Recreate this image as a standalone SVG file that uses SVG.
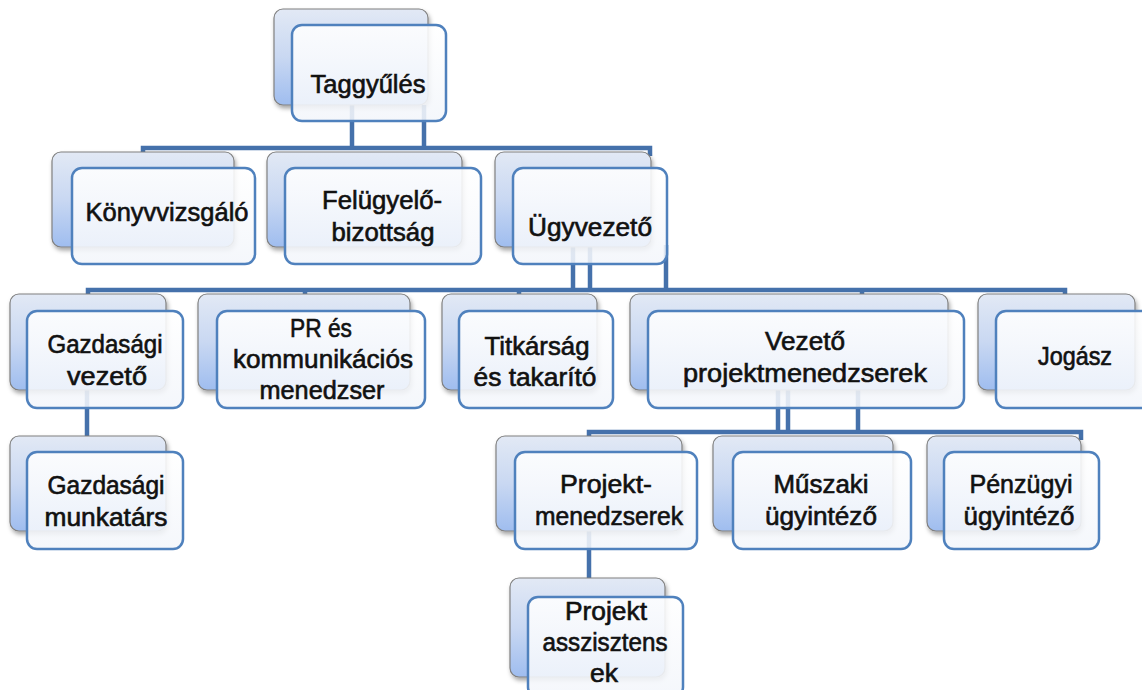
<svg xmlns="http://www.w3.org/2000/svg" width="1142" height="690" viewBox="0 0 1142 690">
<style>
.back{fill:url(#backGrad);stroke:#808080;stroke-width:1.2;filter:url(#shadow)}
.front{fill:url(#frontGrad);stroke:#4f81bd;stroke-width:2.5}
.t{font-family:"Liberation Sans",Arial,sans-serif;font-size:25px;fill:#111111;stroke:#111111;stroke-width:0.6;text-anchor:middle}
.conn path{fill:none;stroke:#4571ab;stroke-width:4.5}
</style>
<defs>
<linearGradient id="backGrad" x1="0" y1="0" x2="0" y2="1">
<stop offset="0" stop-color="#e2e9f5"/>
<stop offset="0.5" stop-color="#c9d8f2"/>
<stop offset="1" stop-color="#9fbdef"/>
</linearGradient>
<linearGradient id="frontGrad" x1="0" y1="0" x2="0" y2="1">
<stop offset="0" stop-color="#ffffff" stop-opacity="0.88"/>
<stop offset="1" stop-color="#f3f6fb" stop-opacity="0.88"/>
</linearGradient>
<filter id="shadow" x="-10%" y="-10%" width="125%" height="130%">
<feDropShadow dx="1.5" dy="3" stdDeviation="2" flood-color="#000" flood-opacity="0.35"/>
</filter>
</defs>
<rect width="1142" height="690" fill="#ffffff"/>

<g id="connectors" class="conn">
<path d="M352,105 V148"/>
<path d="M424,105 V148"/>
<path d="M143,154 V148 H650 V156"/>
<path d="M573,245 V290"/>
<path d="M590,245 V290"/>
<path d="M666,245 V290"/>
<path d="M88,297 V290 H1065 V298"/>
<path d="M305,290 V297"/>
<path d="M519,290 V297"/>
<path d="M862,290 V297"/>
<path d="M87,390 V437"/>
<path d="M778,390 V432"/>
<path d="M788,390 V432"/>
<path d="M858,390 V432"/>
<path d="M589,438 V432 H1081 V440"/>
<path d="M589,531 V579"/>
</g>

<g id="n-taggyules">
<rect class="back" x="274" y="9" width="154" height="96" rx="9"/>
<rect class="front" x="292" y="25" width="154" height="96" rx="10"/>
<text class="t" x="368" y="93" textLength="115" lengthAdjust="spacingAndGlyphs">Taggyűlés</text>
</g>

<g id="n-konyvvizsgalo">
<rect class="back" x="52" y="152" width="182" height="95" rx="9"/>
<rect class="front" x="72" y="168" width="183" height="96" rx="10"/>
<text class="t" x="167" y="221" textLength="163" lengthAdjust="spacingAndGlyphs">Könyvvizsgáló</text>
</g>

<g id="n-felugyelo">
<rect class="back" x="267" y="152" width="195" height="95" rx="9"/>
<rect class="front" x="285" y="168" width="196" height="96" rx="10"/>
<text class="t" x="382" y="209" textLength="120" lengthAdjust="spacingAndGlyphs">Felügyelő-</text>
<text class="t" x="383" y="241" textLength="103" lengthAdjust="spacingAndGlyphs">bizottság</text>
</g>

<g id="n-ugyvezeto">
<rect class="back" x="495" y="152" width="156" height="95" rx="9"/>
<rect class="front" x="513" y="168" width="154" height="96" rx="10"/>
<text class="t" x="590" y="236" textLength="124" lengthAdjust="spacingAndGlyphs">Ügyvezető</text>
</g>

<g id="n-gazdasagi-vezeto">
<rect class="back" x="10" y="294" width="156" height="96" rx="9"/>
<rect class="front" x="27" y="311" width="156" height="97" rx="10"/>
<text class="t" x="105" y="353" textLength="115" lengthAdjust="spacingAndGlyphs">Gazdasági</text>
<text class="t" x="107" y="385" textLength="80" lengthAdjust="spacingAndGlyphs">vezető</text>
</g>

<g id="n-pr">
<rect class="back" x="198" y="294" width="212" height="96" rx="9"/>
<rect class="front" x="217" y="311" width="208" height="97" rx="10"/>
<text class="t" x="321" y="337" textLength="62" lengthAdjust="spacingAndGlyphs">PR és</text>
<text class="t" x="323" y="368" textLength="180" lengthAdjust="spacingAndGlyphs">kommunikációs</text>
<text class="t" x="322" y="399" textLength="125" lengthAdjust="spacingAndGlyphs">menedzser</text>
</g>

<g id="n-titkarsag">
<rect class="back" x="442" y="294" width="155" height="96" rx="9"/>
<rect class="front" x="459" y="311" width="154" height="97" rx="10"/>
<text class="t" x="537" y="355" textLength="105" lengthAdjust="spacingAndGlyphs">Titkárság</text>
<text class="t" x="535" y="386" textLength="123" lengthAdjust="spacingAndGlyphs">és takarító</text>
</g>

<g id="n-vezeto-pm">
<rect class="back" x="630" y="294" width="318" height="96" rx="9"/>
<rect class="front" x="648" y="311" width="316" height="97" rx="10"/>
<text class="t" x="805" y="350" textLength="80" lengthAdjust="spacingAndGlyphs">Vezető</text>
<text class="t" x="805" y="382" textLength="244" lengthAdjust="spacingAndGlyphs">projektmenedzserek</text>
</g>

<g id="n-jogasz">
<rect class="back" x="978" y="294" width="157" height="96" rx="9"/>
<rect class="front" x="996" y="311" width="160" height="97" rx="10"/>
<text class="t" x="1075" y="365" textLength="74" lengthAdjust="spacingAndGlyphs">Jogász</text>
</g>

<g id="n-gazdasagi-munkatars">
<rect class="back" x="10" y="436" width="156" height="95" rx="9"/>
<rect class="front" x="27" y="452" width="156" height="97" rx="10"/>
<text class="t" x="106" y="494" textLength="117" lengthAdjust="spacingAndGlyphs">Gazdasági</text>
<text class="t" x="106" y="526" textLength="123" lengthAdjust="spacingAndGlyphs">munkatárs</text>
</g>

<g id="n-projektmenedzserek">
<rect class="back" x="496" y="436" width="186" height="95" rx="9"/>
<rect class="front" x="515" y="452" width="182" height="97" rx="10"/>
<text class="t" x="606" y="493" textLength="92" lengthAdjust="spacingAndGlyphs">Projekt-</text>
<text class="t" x="609" y="525" textLength="148" lengthAdjust="spacingAndGlyphs">menedzserek</text>
</g>

<g id="n-muszaki">
<rect class="back" x="713" y="436" width="180" height="95" rx="9"/>
<rect class="front" x="733" y="452" width="178" height="97" rx="10"/>
<text class="t" x="821" y="493" textLength="95" lengthAdjust="spacingAndGlyphs">Műszaki</text>
<text class="t" x="821" y="525" textLength="112" lengthAdjust="spacingAndGlyphs">ügyintéző</text>
</g>

<g id="n-penzugyi">
<rect class="back" x="927" y="436" width="154" height="95" rx="9"/>
<rect class="front" x="944" y="452" width="155" height="97" rx="10"/>
<text class="t" x="1021" y="493" textLength="103" lengthAdjust="spacingAndGlyphs">Pénzügyi</text>
<text class="t" x="1019" y="525" textLength="111" lengthAdjust="spacingAndGlyphs">ügyintéző</text>
</g>

<g id="n-projekt-asszisztensek">
<rect class="back" x="510" y="578" width="155" height="99" rx="9"/>
<rect class="front" x="528" y="597" width="155" height="100" rx="10"/>
<text class="t" x="606" y="620" textLength="82" lengthAdjust="spacingAndGlyphs">Projekt</text>
<text class="t" x="605" y="651" textLength="125" lengthAdjust="spacingAndGlyphs">asszisztens</text>
<text class="t" x="604" y="682" textLength="28" lengthAdjust="spacingAndGlyphs">ek</text>
</g>
</svg>
